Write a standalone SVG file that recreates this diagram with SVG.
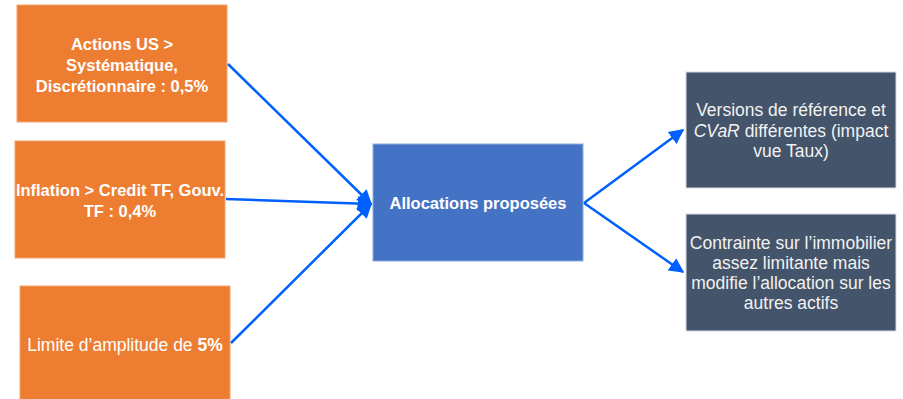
<svg xmlns="http://www.w3.org/2000/svg" width="903" height="399" viewBox="0 0 903 399">
<style>
.orange{fill:#ED7D31;stroke:#F4A46E;stroke-width:1}
.center{fill:#4472C4;stroke:#8FAADC;stroke-width:1}
.dark{fill:#44546A;stroke:#D6DCE5;stroke-width:1}
.tb{font-family:"Liberation Sans",Arial,sans-serif;font-size:16.5px;font-weight:bold;fill:#FFFFFF;text-anchor:middle}
.tr{font-family:"Liberation Sans",Arial,sans-serif;font-size:17.5px;fill:#FFFFFF;text-anchor:middle}
.tg{font-family:"Liberation Sans",Arial,sans-serif;font-size:17.5px;fill:#F2F2F2;text-anchor:middle}
.conn{stroke:#0060FF;stroke-width:2.5;fill:none}
</style>
<defs>
<marker id="ah2" viewBox="0 0 10 10" refX="9" refY="5" markerWidth="6" markerHeight="6.5" orient="auto">
<path d="M0,0 L10,5 L0,10 z" fill="#0060FF"/>
</marker>
</defs>
<g id="node-actions">
<rect class="orange" x="17" y="5" width="210" height="117"/>
<text class="tb" x="122" y="50">Actions US &gt;</text>
<text class="tb" x="122" y="71">Systématique,</text>
<text class="tb" x="122" y="92">Discrétionnaire : 0,5%</text>
</g>
<g id="node-inflation">
<rect class="orange" x="15" y="141" width="210" height="117"/>
<text class="tb" x="120" y="196">Inflation &gt; Credit TF, Gouv.</text>
<text class="tb" x="120" y="217">TF : 0,4%</text>
</g>
<g id="node-limite">
<rect class="orange" x="20" y="286" width="210" height="120"/>
<text class="tr" x="125" y="351">Limite d’amplitude de <tspan font-weight="bold">5%</tspan></text>
</g>
<g id="node-allocations">
<rect class="center" x="373" y="144" width="210" height="117"/>
<text class="tb" x="478" y="209">Allocations proposées</text>
</g>
<g id="node-versions">
<rect class="dark" x="686" y="72" width="210" height="116"/>
<text class="tg" x="791" y="116">Versions de référence et</text>
<text class="tg" x="791" y="137"><tspan font-style="italic">CVaR</tspan> différentes (impact</text>
<text class="tg" x="791" y="157">vue Taux)</text>
</g>
<g id="node-contrainte">
<rect class="dark" x="686" y="214" width="210" height="117"/>
<text class="tg" x="791" y="249">Contrainte sur l’immobilier</text>
<text class="tg" x="791" y="269">assez limitante mais</text>
<text class="tg" x="791" y="289">modifie l’allocation sur les</text>
<text class="tg" x="791" y="309">autres actifs</text>
</g>
<g id="connectors">
<line class="conn" x1="228" y1="64" x2="371" y2="204" marker-end="url(#ah2)"/>
<line class="conn" x1="226" y1="199" x2="371" y2="204" marker-end="url(#ah2)"/>
<line class="conn" x1="231" y1="343" x2="371" y2="204" marker-end="url(#ah2)"/>
<line class="conn" x1="584" y1="203" x2="683" y2="130" marker-end="url(#ah2)"/>
<line class="conn" x1="584" y1="203" x2="683" y2="272" marker-end="url(#ah2)"/>
</g>
</svg>
